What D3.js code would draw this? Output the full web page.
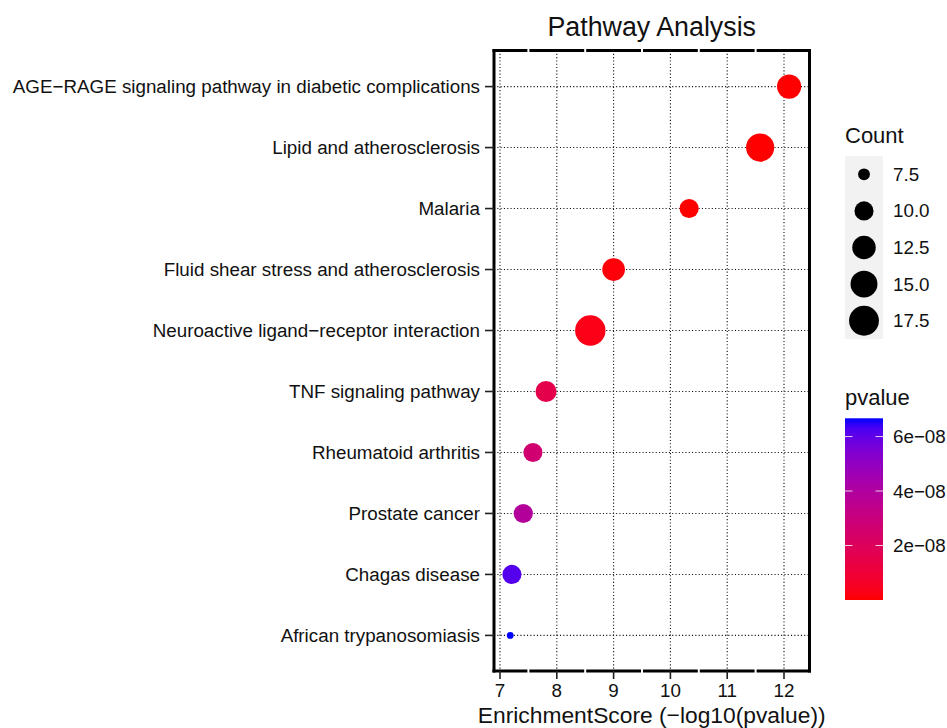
<!DOCTYPE html>
<html>
<head>
<meta charset="utf-8">
<script src="https://cdn.jsdelivr.net/npm/d3@7"></script>
<style>
  html, body { margin: 0; padding: 0; background: #fff; }
  svg { display: block; font-family: "Liberation Sans", Arial, Helvetica, sans-serif; }
</style>
</head>
<body>
<svg id="chart" width="947" height="728"></svg>
<script>
// Data, top row to bottom row
const pathways = [
  "AGE\u2212RAGE signaling pathway in diabetic complications",
  "Lipid and atherosclerosis",
  "Malaria",
  "Fluid shear stress and atherosclerosis",
  "Neuroactive ligand\u2212receptor interaction",
  "TNF signaling pathway",
  "Rheumatoid arthritis",
  "Prostate cancer",
  "Chagas disease",
  "African trypanosomiasis"
];
const scores = [12.09, 11.58, 10.33, 9.00, 8.59, 7.81, 7.58, 7.41, 7.21, 7.18];
const counts = [13, 16, 10, 12, 18, 11, 10, 10, 10, 7];
const pvalues = [8.1e-13, 2.6e-12, 4.7e-11, 1.0e-9, 2.6e-9, 1.55e-8, 2.63e-8, 3.89e-8, 6.17e-8, 6.67e-8];

const xTicks = [7, 8, 9, 10, 11, 12];
const xMinor = [7.5, 8.5, 9.5, 10.5, 11.5];
const countBreaks = [7.5, 10, 12.5, 15, 17.5];
const countLabels = ["7.5", "10.0", "12.5", "15.0", "17.5"];
const pBreaks = [2e-8, 4e-8, 6e-8];
const pLabels = ["2e\u221208", "4e\u221208", "6e\u221208"];

const svg = d3.select("#chart");
const TXT = "#111";
const FS = 18.8;

// panel box
const P = { left: 494, right: 809.5, top: 50.5, bottom: 671 };

const xScale = d3.scaleLinear().domain([7, 12]).range([500, 784]);
const yScale = d3.scalePoint().domain(pathways).range([50, 672]).padding(0.6);

const cExt = d3.extent(counts);
const rMin = 3.4, rMax = 15.2;
const rT = d3.scaleLinear().domain(cExt).range([0, 1]).clamp(true);
const rScale = c => rMin + (rMax - rMin) * Math.sqrt(rT(c));

const pExt = d3.extent(pvalues);
const colorT = d3.scaleLinear().domain(pExt).range([0, 1]).clamp(true);
const color = p => d3.interpolateLab("#ff0000", "#0000ff")(colorT(p));

const rows = pathways.map((name, i) => ({
  name, score: scores[i], count: counts[i], p: pvalues[i]
}));

// grid
const grid = svg.append("g").attr("stroke", "#111").attr("stroke-width", 1.1)
  .attr("stroke-dasharray", "1.1,2.2");
grid.selectAll("line.vx").data(xTicks).enter().append("line")
  .attr("x1", d => xScale(d)).attr("x2", d => xScale(d))
  .attr("y1", P.top).attr("y2", P.bottom);
grid.selectAll("line.hy").data(pathways).enter().append("line")
  .attr("x1", P.left).attr("x2", P.right)
  .attr("y1", d => yScale(d)).attr("y2", d => yScale(d));

// points
svg.append("g").selectAll("circle").data(rows).enter().append("circle")
  .attr("cx", d => xScale(d.score))
  .attr("cy", d => yScale(d.name))
  .attr("r", d => rScale(d.count))
  .attr("fill", d => color(d.p));

// panel border: sides solid, top and bottom broken at the minor breaks
const border = svg.append("g").attr("stroke", "#000").attr("stroke-width", 3).attr("fill", "none");
border.append("line").attr("x1", P.left).attr("x2", P.left).attr("y1", P.top - 1.5).attr("y2", P.bottom + 1.5);
border.append("line").attr("x1", P.right).attr("x2", P.right).attr("y1", P.top - 1.5).attr("y2", P.bottom + 1.5);
const cuts = [P.left - 1.5].concat(xMinor.map(xScale), [P.right + 1.5]);
const segs = d3.pairs(cuts);
[P.top, P.bottom].forEach(yy => {
  border.selectAll(null).data(segs).enter().append("line")
    .attr("x1", (d, i) => i === 0 ? d[0] : d[0] + 1)
    .attr("x2", (d, i) => i === segs.length - 1 ? d[1] : d[1] - 1)
    .attr("y1", yy).attr("y2", yy);
});

// y axis ticks + labels
const yAx = svg.append("g");
yAx.selectAll("line").data(pathways).enter().append("line")
  .attr("x1", P.left - 9).attr("x2", P.left)
  .attr("y1", d => yScale(d)).attr("y2", d => yScale(d))
  .attr("stroke", "#222").attr("stroke-width", 1.6);
yAx.selectAll("text").data(pathways).enter().append("text")
  .attr("x", P.left - 14).attr("y", d => yScale(d) + 6.6)
  .attr("text-anchor", "end").attr("font-size", FS).attr("fill", TXT)
  .text(d => d);

// x axis ticks + labels
const xAx = svg.append("g");
xAx.selectAll("line").data(xTicks).enter().append("line")
  .attr("x1", d => xScale(d)).attr("x2", d => xScale(d))
  .attr("y1", P.bottom).attr("y2", P.bottom + 8)
  .attr("stroke", "#222").attr("stroke-width", 1.6);
xAx.selectAll("text").data(xTicks).enter().append("text")
  .attr("x", d => xScale(d)).attr("y", 697)
  .attr("text-anchor", "middle").attr("font-size", FS).attr("fill", TXT)
  .text(d => d);

// titles
const midX = (P.left + P.right) / 2;
svg.append("text").attr("x", midX).attr("y", 723)
  .attr("text-anchor", "middle").attr("font-size", 22.8).attr("fill", TXT)
  .text("EnrichmentScore (\u2212log10(pvalue))");
svg.append("text").attr("x", midX).attr("y", 36)
  .attr("text-anchor", "middle").attr("font-size", 26.8).attr("fill", TXT)
  .text("Pathway Analysis");

// size legend
const LX = 845, keyW = 38, keyH = 36.6, sizeTop = 156;
const sizeLeg = svg.append("g");
sizeLeg.append("text").attr("x", LX).attr("y", 142.5)
  .attr("font-size", 22).attr("fill", TXT).text("Count");
sizeLeg.append("rect").attr("x", LX).attr("y", sizeTop)
  .attr("width", keyW).attr("height", keyH * countBreaks.length).attr("fill", "#f2f2f2");
sizeLeg.selectAll("circle").data(countBreaks).enter().append("circle")
  .attr("cx", LX + keyW / 2).attr("cy", (d, i) => sizeTop + keyH * (i + 0.5))
  .attr("r", d => rScale(d)).attr("fill", "#000");
sizeLeg.selectAll("text.lab").data(countLabels).enter().append("text")
  .attr("class", "lab")
  .attr("x", 893).attr("y", (d, i) => sizeTop + keyH * (i + 0.5) + 6.5)
  .attr("font-size", FS).attr("fill", TXT).text(d => d);

// colour legend
const barTop = 418.3, barBot = 600, barW = 38;
const pY = d3.scaleLinear().domain(pExt).range([barBot, barTop]);
const defs = svg.append("defs");
const grad = defs.append("linearGradient").attr("id", "pgrad")
  .attr("x1", 0).attr("y1", 1).attr("x2", 0).attr("y2", 0);
grad.selectAll("stop").data(d3.range(0, 1.0001, 0.05)).enter().append("stop")
  .attr("offset", d => d)
  .attr("stop-color", d => color(pExt[0] + d * (pExt[1] - pExt[0])));
const colLeg = svg.append("g");
colLeg.append("text").attr("x", LX).attr("y", 404.5)
  .attr("font-size", 22).attr("fill", TXT).text("pvalue");
colLeg.append("rect").attr("x", LX).attr("y", barTop)
  .attr("width", barW).attr("height", barBot - barTop).attr("fill", "url(#pgrad)");
pBreaks.forEach(b => {
  colLeg.append("line").attr("x1", LX).attr("x2", LX + 7.5)
    .attr("y1", pY(b)).attr("y2", pY(b)).attr("stroke", "#fff").attr("stroke-opacity", 0.8).attr("stroke-width", 1);
  colLeg.append("line").attr("x1", LX + barW - 7.5).attr("x2", LX + barW)
    .attr("y1", pY(b)).attr("y2", pY(b)).attr("stroke", "#fff").attr("stroke-opacity", 0.8).attr("stroke-width", 1);
});
colLeg.selectAll("text.lab").data(pBreaks).enter().append("text")
  .attr("class", "lab")
  .attr("x", 893).attr("y", d => pY(d) + 6.5)
  .attr("font-size", FS).attr("fill", TXT).text((d, i) => pLabels[i]);
</script>
</body>
</html>
